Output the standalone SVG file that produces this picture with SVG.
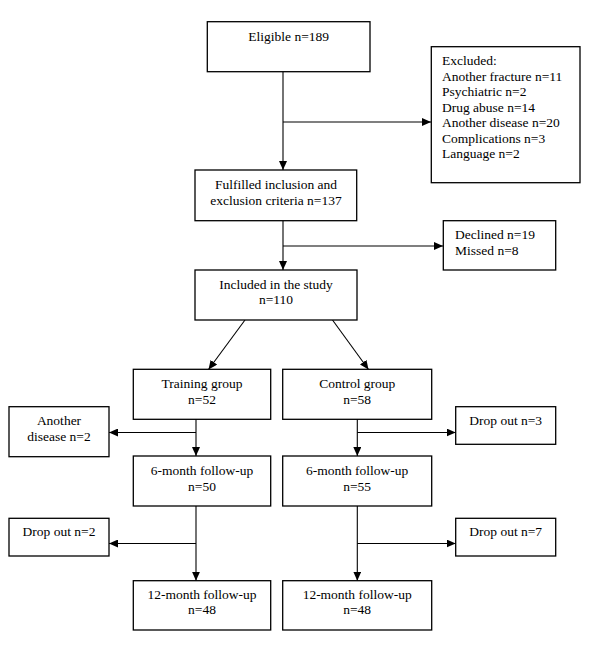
<svg xmlns="http://www.w3.org/2000/svg" width="600" height="649" viewBox="0 0 600 649">
<style>
.b{fill:#fff;stroke:#000;stroke-width:1.3}
.t{font-family:"Liberation Serif","Times New Roman",serif;font-size:13.5px;fill:#000}
.c{text-anchor:middle}
.l{fill:none;stroke:#000;stroke-width:1.1}
</style>
<defs>
<marker id="ah" markerUnits="userSpaceOnUse" markerWidth="10" markerHeight="8" refX="9" refY="4" orient="auto">
<path d="M0,0 L9,4 L0,8 Z" fill="#000"/>
</marker>
</defs>
<rect width="600" height="649" fill="#fff"/>
<g id="connectors">
<line class="l" x1="283" y1="72" x2="283" y2="170" marker-end="url(#ah)"/>
<line class="l" x1="283" y1="122" x2="431" y2="122" marker-end="url(#ah)"/>
<line class="l" x1="283" y1="221" x2="283" y2="270" marker-end="url(#ah)"/>
<line class="l" x1="283" y1="246" x2="443" y2="246" marker-end="url(#ah)"/>
<line class="l" x1="245" y1="320" x2="208.5" y2="369.5" marker-end="url(#ah)"/>
<line class="l" x1="332.5" y1="320" x2="368.5" y2="369.5" marker-end="url(#ah)"/>
<line class="l" x1="196" y1="419" x2="196" y2="456" marker-end="url(#ah)"/>
<line class="l" x1="196" y1="432.5" x2="109" y2="432.5" marker-end="url(#ah)"/>
<line class="l" x1="357.3" y1="419" x2="357.3" y2="456" marker-end="url(#ah)"/>
<line class="l" x1="357.3" y1="432.5" x2="455.7" y2="432.5" marker-end="url(#ah)"/>
<line class="l" x1="196" y1="506" x2="196" y2="580.7" marker-end="url(#ah)"/>
<line class="l" x1="196" y1="543.5" x2="109" y2="543.5" marker-end="url(#ah)"/>
<line class="l" x1="357.3" y1="506" x2="357.3" y2="580.7" marker-end="url(#ah)"/>
<line class="l" x1="357.3" y1="543.5" x2="455.7" y2="543.5" marker-end="url(#ah)"/>
</g>
<g id="eligible">
<rect class="b" x="207.3" y="21.7" width="162.7" height="50"/>
<text class="t c" x="288.7" y="41">Eligible n=189</text>
</g>
<g id="excluded">
<rect class="b" x="431.3" y="46.7" width="148.7" height="136"/>
<text class="t" x="442" y="65">Excluded:</text>
<text class="t" x="442" y="80.5">Another fracture n=11</text>
<text class="t" x="442" y="96">Psychiatric n=2</text>
<text class="t" x="442" y="111.5">Drug abuse n=14</text>
<text class="t" x="442" y="127">Another disease n=20</text>
<text class="t" x="442" y="142.5">Complications n=3</text>
<text class="t" x="442" y="158">Language n=2</text>
</g>
<g id="fulfilled">
<rect class="b" x="195" y="170" width="161.7" height="50.7"/>
<text class="t c" x="276" y="188.5">Fulfilled inclusion and</text>
<text class="t c" x="276" y="205">exclusion criteria n=137</text>
</g>
<g id="declined">
<rect class="b" x="443.3" y="220.7" width="112.4" height="49.3"/>
<text class="t" x="455" y="238.5">Declined n=19</text>
<text class="t" x="455" y="254.5">Missed n=8</text>
</g>
<g id="included">
<rect class="b" x="195" y="270" width="162" height="50"/>
<text class="t c" x="276" y="288.5">Included in the study</text>
<text class="t c" x="276" y="304">n=110</text>
</g>
<g id="training">
<rect class="b" x="133.3" y="369.3" width="137.4" height="50"/>
<text class="t c" x="202" y="388.3">Training group</text>
<text class="t c" x="202" y="404">n=52</text>
</g>
<g id="control">
<rect class="b" x="282.7" y="369.3" width="149" height="50"/>
<text class="t c" x="357.2" y="388.3">Control group</text>
<text class="t c" x="357.2" y="404">n=58</text>
</g>
<g id="another-disease">
<rect class="b" x="9" y="406.7" width="100" height="50"/>
<text class="t c" x="59" y="425">Another</text>
<text class="t c" x="59" y="440.5">disease n=2</text>
</g>
<g id="dropout3">
<rect class="b" x="455.7" y="406.7" width="100" height="37.6"/>
<text class="t c" x="505.7" y="425">Drop out n=3</text>
</g>
<g id="training-6m">
<rect class="b" x="133.3" y="456" width="137.4" height="50"/>
<text class="t c" x="202" y="475">6-month follow-up</text>
<text class="t c" x="202" y="490.5">n=50</text>
</g>
<g id="control-6m">
<rect class="b" x="282.7" y="456" width="149" height="50"/>
<text class="t c" x="357.2" y="475">6-month follow-up</text>
<text class="t c" x="357.2" y="490.5">n=55</text>
</g>
<g id="dropout2">
<rect class="b" x="9" y="518.3" width="100" height="37.7"/>
<text class="t c" x="59" y="536.3">Drop out n=2</text>
</g>
<g id="dropout7">
<rect class="b" x="455.7" y="518.3" width="100" height="37.7"/>
<text class="t c" x="505.7" y="536.3">Drop out n=7</text>
</g>
<g id="training-12m">
<rect class="b" x="133.3" y="580.7" width="137.4" height="49.3"/>
<text class="t c" x="202" y="598.5">12-month follow-up</text>
<text class="t c" x="202" y="614">n=48</text>
</g>
<g id="control-12m">
<rect class="b" x="282.7" y="580.7" width="149" height="49.3"/>
<text class="t c" x="357.2" y="598.5">12-month follow-up</text>
<text class="t c" x="357.2" y="614">n=48</text>
</g>
</svg>
